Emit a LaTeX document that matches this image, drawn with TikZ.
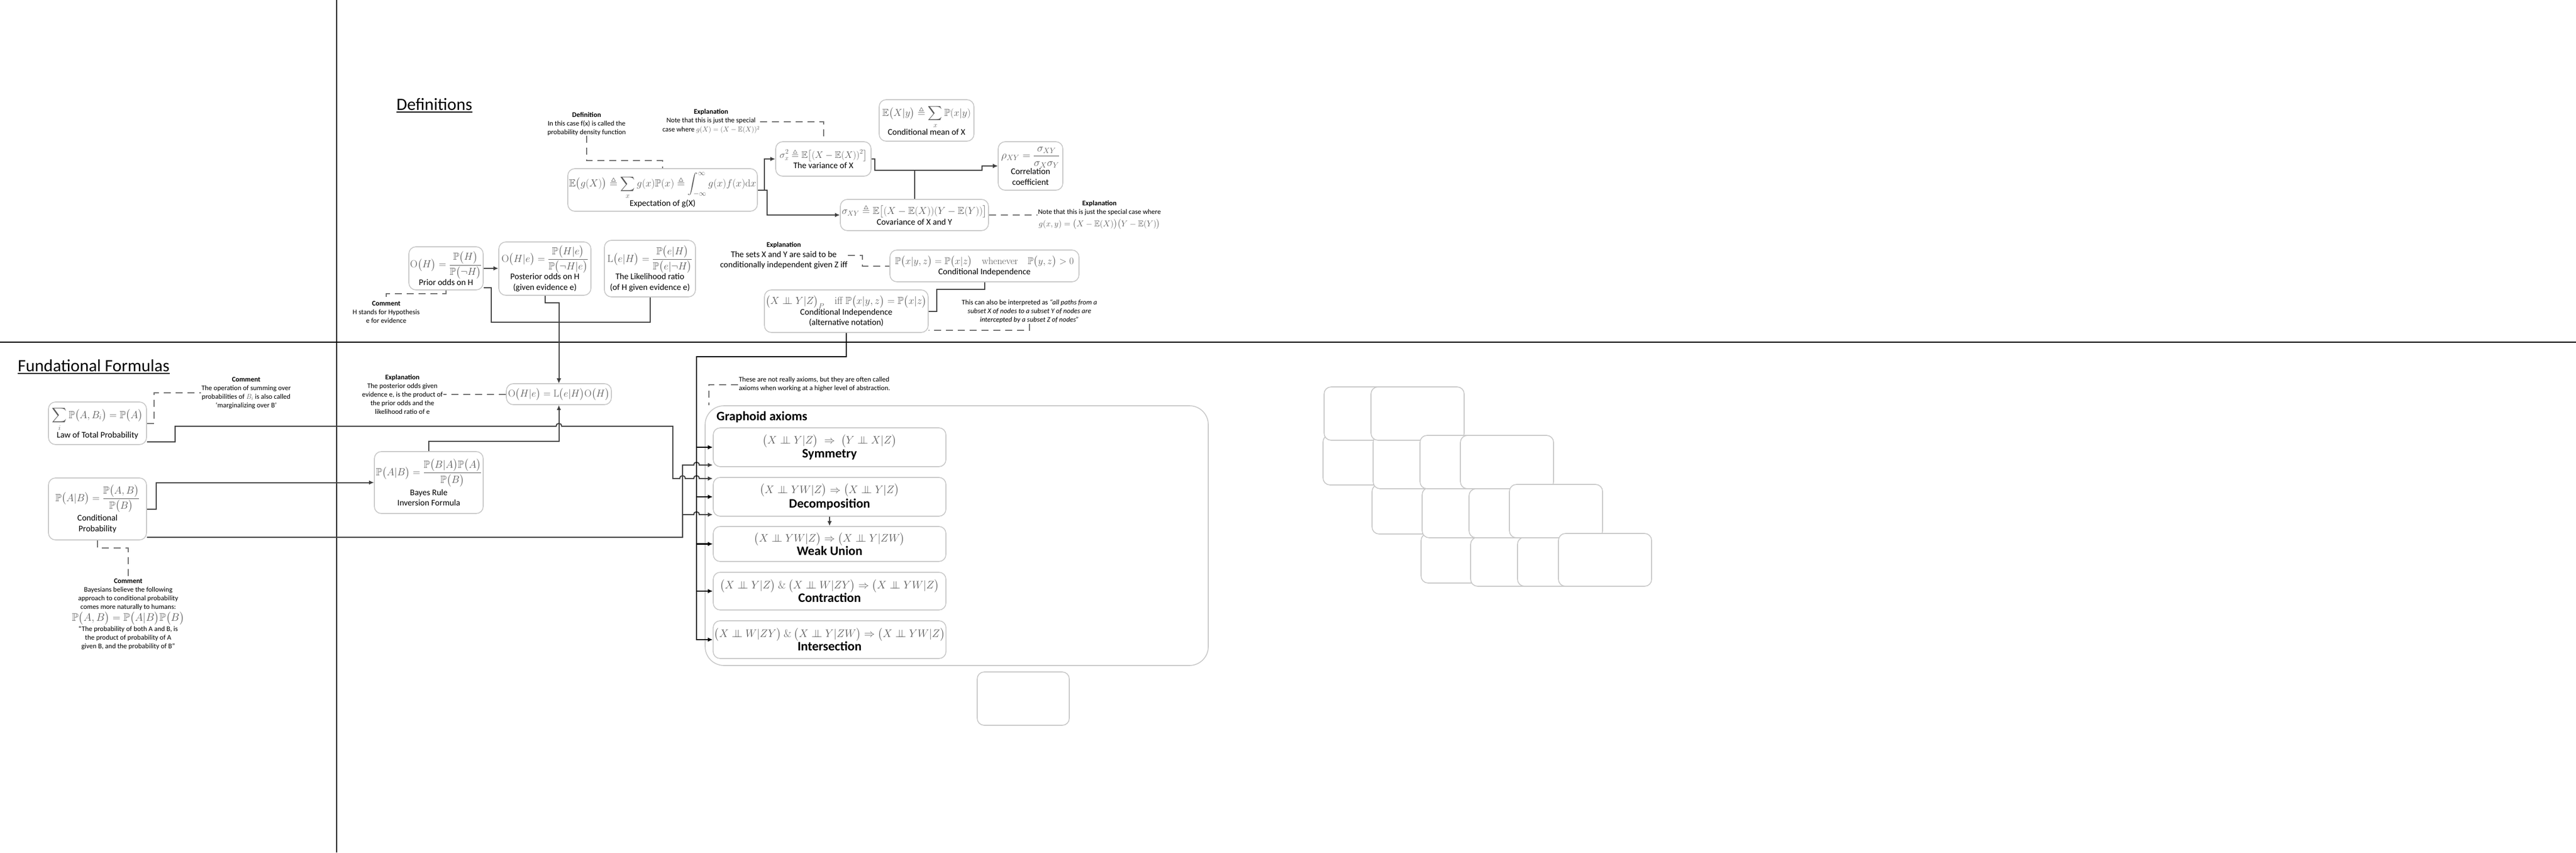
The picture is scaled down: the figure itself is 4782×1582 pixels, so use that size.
\RequirePackage{fix-cm}
\documentclass[tikz,border=0pt]{standalone}
\usepackage{amsmath,amssymb}
\usepackage[no-math]{fontspec}
\setmainfont{Carlito}
\usetikzlibrary{arrows.meta}
\definecolor{boxc}{HTML}{C8C8C8}
\definecolor{mathc}{HTML}{5A5A5A}
\definecolor{connc}{HTML}{404040}
\definecolor{dashc}{HTML}{6E6E6E}
\newcommand{\lbf}{\fontsize{16}{19.5}\selectfont}
\newcommand{\cmtf}{\fontsize{13}{16}\selectfont}
\newcommand{\ttlf}{\fontsize{32}{38}\selectfont}
\newcommand{\axl}{\fontsize{24}{28}\selectfont\bfseries}
\newcommand{\fms}[2]{{\fontsize{#1}{#1}\selectfont\color{mathc}$\displaystyle #2$}}
\newcommand{\indep}{\mathrel{\perp\mkern-10mu\perp}}
\begin{document}
\begin{tikzpicture}[x=1pt,y=-1pt,
 bx/.style 2 args={draw=boxc, line width=1.6pt, rounded corners=13pt, fill=white, align=center, inner sep=2pt, minimum width=#1, minimum height=#2, font=\lbf, text=black},
 cmt/.style={align=center, font=\cmtf, inner sep=1pt, text=black},
 conn/.style={draw=connc, line width=2pt},
 arr/.style={conn, -{Latex[length=9pt,width=8pt]}},
 thk/.style={draw=black, line width=2.4pt, -{Latex[length=9pt,width=8pt]}},
 dsh/.style={draw=dashc, line width=2pt, dash pattern=on 13pt off 9pt},
 divl/.style={draw=black, line width=2.6pt},
 ttl/.style={font=\ttlf, inner sep=0pt, anchor=base west}]
\useasboundingbox (0,0) rectangle (4782,1582);
\fill[white] (0,0) rectangle (4782,1582);
% dividers
\draw[divl] (625,0) -- (625,1582);
\draw[divl] (0,635) -- (4782,635);
% titles
\node[ttl] (t1) at (736,204) {Definitions};
\draw[line width=2pt] ([yshift=-4pt]t1.base west) -- ([yshift=-4pt]t1.base east);
\node[ttl] (t2) at (33,689) {Fundational Formulas};
\draw[line width=2pt] ([yshift=-4pt]t2.base west) -- ([yshift=-4pt]t2.base east);

% ---------- Definitions boxes
\node[bx={352pt}{79pt}] (exp) at (1230,352.5) {\fms{19}{\mathbb{E}\big(g(X)\big) \triangleq \sum_x g(x)\mathbb{P}(x) \triangleq \int_{-\infty}^{\infty} g(x)f(x)\mathrm{d}x}\\Expectation of g(X)};
\node[bx={177pt}{64pt}] (var) at (1528.5,295) {\fms{17.5}{\sigma_x^2 \triangleq \mathbb{E}\big[(X-\mathbb{E}(X))^2\big]}\\The variance of X};
\node[bx={176pt}{77pt}] (cmean) at (1720,223.5) {\fms{18.5}{\mathbb{E}\big(X|y\big) \triangleq \sum_x \mathbb{P}(x|y)}\\Conditional mean of X};
\node[bx={120pt}{90pt}] (corr) at (1913,308) {\fms{20}{\rho_{XY} = \frac{\sigma_{XY}}{\sigma_X\sigma_Y}}\\Correlation\\coefficient};
\node[bx={275pt}{58pt}] (cov) at (1697.5,399) {\fms{18.5}{\sigma_{XY} \triangleq \mathbb{E}\big[(X-\mathbb{E}(X))(Y-\mathbb{E}(Y))\big]}\\Covariance of X and Y};
\node[bx={138pt}{80pt}] (prior) at (828,498) {\fms{19}{\mathrm{O}\big(H\big) = \frac{\mathbb{P}\big(H\big)}{\mathbb{P}\big(\neg H\big)}}\\Prior odds on H};
\node[bx={171pt}{99pt}] (post) at (1011.5,498.5) {\fms{19}{\mathrm{O}\big(H|e\big) = \frac{\mathbb{P}\big(H|e\big)}{\mathbb{P}\big(\neg H|e\big)}}\\Posterior odds on H\\(given evidence e)};
\node[bx={169pt}{105pt}] (lik) at (1206.5,498.5) {\fms{19}{\mathrm{L}\big(e|H\big) = \frac{\mathbb{P}\big(e|H\big)}{\mathbb{P}\big(e|\neg H\big)}}\\The Likelihood ratio\\(of H given evidence e)};
\node[bx={351pt}{59pt}] (ci) at (1827.5,493.5) {\fms{18}{\mathbb{P}\big(x|y,z\big) = \mathbb{P}\big(x|z\big) \quad \mathrm{whenever} \quad \mathbb{P}\big(y,z\big) > 0}\\Conditional Independence};
\node[bx={304pt}{79pt}] (cialt) at (1571,577.5) {\fms{19}{\big(X \indep Y|Z\big)_P \quad \mathrm{iff}\ \mathbb{P}\big(x|y,z\big) = \mathbb{P}\big(x|z\big)}\\Conditional Independence\\(alternative notation)};

% ---------- Fundational boxes
\node[bx={195pt}{39pt}] (odds) at (1037.5,731.5) {\fms{18.5}{\mathrm{O}\big(H|e\big) = \mathrm{L}\big(e|H\big)\mathrm{O}\big(H\big)}};
\node[bx={202pt}{115pt}] (bayes) at (796,895.5) {\fms{19}{\mathbb{P}\big(A|B\big) = \frac{\mathbb{P}\big(B|A\big)\mathbb{P}\big(A\big)}{\mathbb{P}\big(B\big)}}\\[4pt]Bayes Rule\\Inversion Formula};
\node[bx={182pt}{79pt}] (ltp) at (181,785.5) {\fms{19}{\sum_i \mathbb{P}\big(A,B_i\big) = \mathbb{P}\big(A\big)}\\Law of Total Probability};
\node[bx={182pt}{115pt}] (cprob) at (181,944.5) {\fms{19}{\mathbb{P}\big(A|B\big) = \frac{\mathbb{P}\big(A,B\big)}{\mathbb{P}\big(B\big)}}\\[4pt]Conditional\\Probability};

% ---------- Graphoid axioms
\node[draw=boxc, line width=1.6pt, rounded corners=35pt, minimum width=934pt, minimum height=482pt] (graph) at (1776,994) {};
\node[anchor=west, inner sep=0pt, font=\axl] (gtitle) at (1330,774) {Graphoid axioms};
\node[bx={432pt}{72pt}] (sym) at (1540,830) {\fms{20}{\big(X \indep Y|Z\big) \;\Rightarrow\; \big(Y \indep X|Z\big)}\\[2pt]{\axl Symmetry}};
\node[bx={432pt}{72pt}] (dec) at (1540,922) {\fms{20}{\big(X \indep YW|Z\big) \Rightarrow \big(X \indep Y|Z\big)}\\[2pt]{\axl Decomposition}};
\node[bx={432pt}{65pt}] (wu) at (1540,1009.5) {\fms{20}{\big(X \indep YW|Z\big) \Rightarrow \big(X \indep Y|ZW\big)}\\{\axl Weak Union}};
\node[bx={432pt}{70pt}] (con) at (1540,1097) {\fms{20}{\big(X \indep Y|Z\big)\ \&\ \big(X \indep W|ZY\big) \Rightarrow \big(X \indep YW|Z\big)}\\{\axl Contraction}};
\node[bx={432pt}{70pt}] (inter) at (1540,1187) {\fms{20}{\big(X \indep W|ZY\big)\ \&\ \big(X \indep Y|ZW\big) \Rightarrow \big(X \indep YW|Z\big)}\\{\axl Intersection}};
\node[bx={171pt}{99pt}] (eb0) at (1899.5,1296.5) {};

% ---------- empty boxes on the right
\node[bx={173pt}{93pt}] (e3) at (2542.5,853.5) {};
\node[bx={173pt}{99pt}] (e1) at (2544.5,767.5) {};
\node[bx={173pt}{92pt}] (e7) at (2633.5,945) {};
\node[bx={173pt}{99pt}] (e4) at (2635.5,857.5) {};
\node[bx={173pt}{99pt}] (e2) at (2631.5,767.5) {};
\node[bx={173pt}{92pt}] (e11) at (2724.5,1036) {};
\node[bx={173pt}{93pt}] (e8) at (2726.5,951.5) {};
\node[bx={173pt}{99pt}] (e5) at (2722.5,857.5) {};
\node[bx={173pt}{91pt}] (e12) at (2816.5,1042.5) {};
\node[bx={173pt}{91pt}] (e9) at (2813.5,952.5) {};
\node[bx={173pt}{99pt}] (e6) at (2797.5,857.5) {};
\node[bx={173pt}{91pt}] (e13) at (2903.5,1042.5) {};
\node[bx={173pt}{99pt}] (e10) at (2888.5,948.5) {};
\node[bx={173pt}{98pt}] (e14) at (2979.5,1039) {};

% ---------- comments
\node[cmt] (defc) at (1089,229.5) {\textbf{Definition}\\In this case f(x) is called the\\probability density function};
\node[cmt] (varexp) at (1320,225.5) {\textbf{Explanation}\\Note that this is just the special\\[1pt]case where {\color{mathc}$g(X)=(X-\mathbb{E}(X))^2$}};
\node[cmt] (covexp) at (2041,399) {\textbf{Explanation}\\Note that this is just the special case where\\[7pt]{\fontsize{15.5}{17}\selectfont\color{mathc}$g(x,y) = \big(X-\mathbb{E}(X)\big)\big(Y-\mathbb{E}(Y)\big)$}};
\node[cmt, font=\fontsize{16}{19}\selectfont] (ciexp) at (1455,474) {{\cmtf\bfseries Explanation}\\The sets X and Y are said to be\\conditionally independent given Z iff};
\node[cmt] (cialtc) at (1911,578) {This can also be interpreted as \textit{“all paths from a}\\\textit{subset X of nodes to a subset Y of nodes are}\\\textit{intercepted by a subset Z of nodes”}};
\node[cmt] (priorc) at (717,579) {\textbf{Comment}\\H stands for Hypothesis\\e for evidence};
\node[cmt] (oddsexp) at (747,732) {\textbf{Explanation}\\The posterior odds given\\evidence e, is the product of\\the prior odds and the\\likelihood ratio of e};
\node[cmt] (ltpc) at (457,729) {\textbf{Comment}\\The operation of summing over\\probabilities of {\color{mathc}$B_i$} is also called\\‘marginalizing over B’};
\node[cmt] (cprobc) at (238,1140) {\textbf{Comment}\\Bayesians believe the following\\approach to conditional probability\\comes more naturally to humans:\\[2pt]\fms{20}{\mathbb{P}\big(A,B\big) = \mathbb{P}\big(A|B\big)\mathbb{P}\big(B\big)}\\[2pt]“The probability of both A and B, is\\the product of probability of A\\given B, and the probability of B”};
\node[cmt, align=left] (axc) at (1512,713.5) {These are not really axioms, but they are often called\\axioms when working at a higher level of abstraction.};

% ---------- connectors: definitions
\draw[arr] (exp.east) -- (1419,352.5) |- (var.west);
\draw[arr] (exp.east) -- (1424,352.5) |- (cov.west);
\draw[arr] (var.east) -| (1624,316) -- (1823,316) |- (corr.west);
\draw[arr] (cov.north) |- (1823,316) |- (corr.west);
\draw[dsh] (defc.south) |- (1230,298) -- (exp.north);
\draw[dsh] (varexp.east) -| (var.north);
\draw[dsh] (cov.east) -- (cov.east -| covexp.west);
\draw[arr] (prior.east) -- (prior.east -| post.west);
\draw[arr] (prior.east |- 0,534) -- (912,534) |- (odds.north |- 0,598) -- (odds.north);
\draw[arr] (lik.south) |- (odds.north |- 0,598) -- (odds.north);
\draw[arr] (post.south) -- (1011.5,562) -| (odds.north);
\draw[dsh] (prior.south) -- (828,545) -| (priorc.north);
\draw[conn] (ci.south) -- (1827.5,537) -| (1739,577.5) -- (cialt.east);
\draw[dsh] (ciexp.east) -- (1601,474) |- (ci.west);
\draw[dsh] (cialtc.south) |- (cialt.east |- 0,613);

% ---------- connectors: fundational
\draw[dsh] (odds.west) -- (odds.west -| oddsexp.east);
\draw[arr] (bayes.north) -- (796,819) -| (odds.south);
\draw[arr] (cprob.east) -- (290,944.5) |- (bayes.west);
\draw[dsh] (ltp.east) -- (286,785.5) |- (ltpc.west);
\draw[dsh] (cprob.south) -- (181,1017) -| (cprobc.north);
\draw[dsh] (axc.west) -| ([xshift=8pt]graph.north west);
\draw[arr] (ltp.east |- 0,820) -- (325,820) -- (325,791) -- (1032.5,791) .. controls (1032.5,784) and (1042.5,784) .. (1042.5,791) -- (1249,791) -- (1249,888) -- (1262,888) .. controls (1262,881) and (1272,881) .. (1272,888) -- (1288,888) .. controls (1288,881) and (1298,881) .. (1298,888) -- (dec.west |- 0,888);
\draw[arr] (cprob.east |- 0,997) -- (1267,997) -- (1267,863) -- (1288,863) .. controls (1288,856) and (1298,856) .. (1298,863) -- (sym.west |- 0,863);
\draw[arr] (cprob.east |- 0,997) -- (1267,997) -- (1267,955) -- (1288,955) .. controls (1288,948) and (1298,948) .. (1298,955) -- (dec.west |- 0,955);
\draw[thk] (cialt.south) |- (1293,662) |- (sym.west);
\draw[thk] (cialt.south) |- (1293,662) |- (dec.west);
\draw[thk] (cialt.south) |- (1293,662) |- (wu.west);
\draw[thk] (cialt.south) |- (1293,662) |- (con.west);
\draw[thk] (cialt.south) |- (1293,662) |- (inter.west);
\draw[arr] (dec.south) -- (wu.north);
\end{tikzpicture}
\end{document}
